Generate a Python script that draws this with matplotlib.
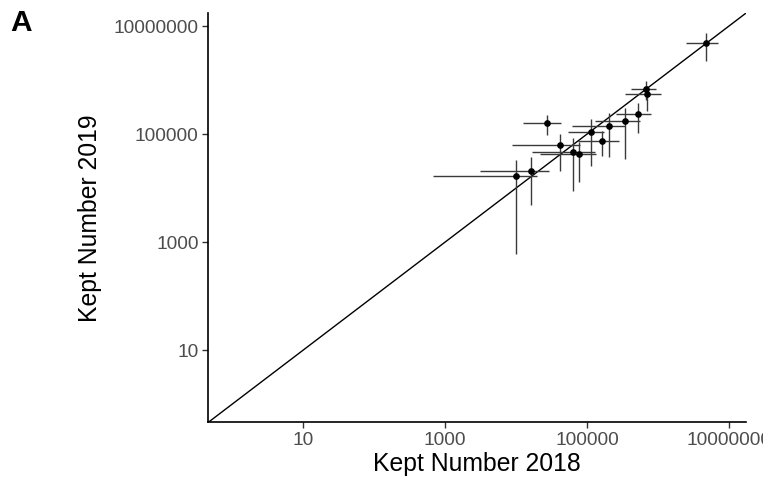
import matplotlib
matplotlib.use("Agg")
import matplotlib.pyplot as plt
import numpy as np
from matplotlib.ticker import FixedLocator, FixedFormatter, NullLocator

plt.rcParams['font.family'] = ['Liberation Sans', 'DejaVu Sans']

# Data (Kept numbers with error ranges)
kept_2018 = [10000, 16200, 27200, 41500, 63800, 76900, 112500, 165000, 205000,
             350000, 527000, 682000, 714000, 4740000]
kept_2019 = [16900, 20600, 160000, 63500, 46600, 42800, 109000, 74500, 139000,
             175000, 237000, 680000, 557000, 4900000]
x_low = [680, 3100, 12400, 8650, 16600, 21700, 53800, 74500, 60700,
         129000, 261000, 426000, 342000, 2530000]
x_high = [19500, 29000, 42500, 79400, 129000, 133000, 173000, 282000, 342000,
          566000, 796000, 957000, 1120000, 7070000]
y_low = [600, 4900, 97500, 21200, 8900, 13200, 25200, 38900, 38500,
         34500, 105000, 435000, 264000, 2230000]
y_high = [33500, 37000, 222000, 100000, 85700, 72300, 193000, 113000, 246000,
          305000, 378000, 950000, 790000, 7500000]

tick_values = [10, 1000, 100000, 10000000]
tick_labels = ["10", "1000", "100000", "10000000"]

x = np.array(kept_2018, float)
y = np.array(kept_2019, float)
xerr = np.vstack([x - np.array(x_low), np.array(x_high) - x])
yerr = np.vstack([y - np.array(y_low), np.array(y_high) - y])

fig = plt.figure(figsize=(7.63, 4.88), dpi=100)
ax = fig.add_axes([0.273, 0.1346, 0.9773 - 0.273, 0.9727 - 0.1346])
ax.set_xscale('log')
ax.set_yscale('log')
lo, hi = 10 ** -0.34, 10 ** 7.24
ax.set_xlim(lo, hi)
ax.set_ylim(lo, hi)

ax.axline((1, 1), (10, 10), color='black', lw=1.0, zorder=1)
ax.errorbar(x, y, xerr=xerr, yerr=yerr, fmt='none', ecolor='#3a3a3a',
            elinewidth=1.0, capsize=0, zorder=2)
ax.plot(x, y, 'o', color='black', markersize=3.8, zorder=3)

for axis in (ax.xaxis, ax.yaxis):
    axis.set_major_locator(FixedLocator(tick_values))
    axis.set_major_formatter(FixedFormatter(tick_labels))
    axis.set_minor_locator(NullLocator())

ax.tick_params(axis='both', which='major', labelsize=13.8, labelcolor='#4D4D4D',
               color='#333333', length=4, width=1.0, pad=3)
for s in ['top', 'right']:
    ax.spines[s].set_visible(False)
for s in ['left', 'bottom']:
    ax.spines[s].set_linewidth(1.2)
    ax.spines[s].set_color('black')

ax.set_xlabel('Kept Number 2018', fontsize=17.8, color='black', labelpad=2)
ax.set_ylabel('Kept Number 2019', fontsize=17.8, color='black', labelpad=8)

fig.text(0.014, 0.982, 'A', fontsize=21.5, fontweight='bold', va='top', ha='left')

fig.savefig('out.png', dpi=100)
